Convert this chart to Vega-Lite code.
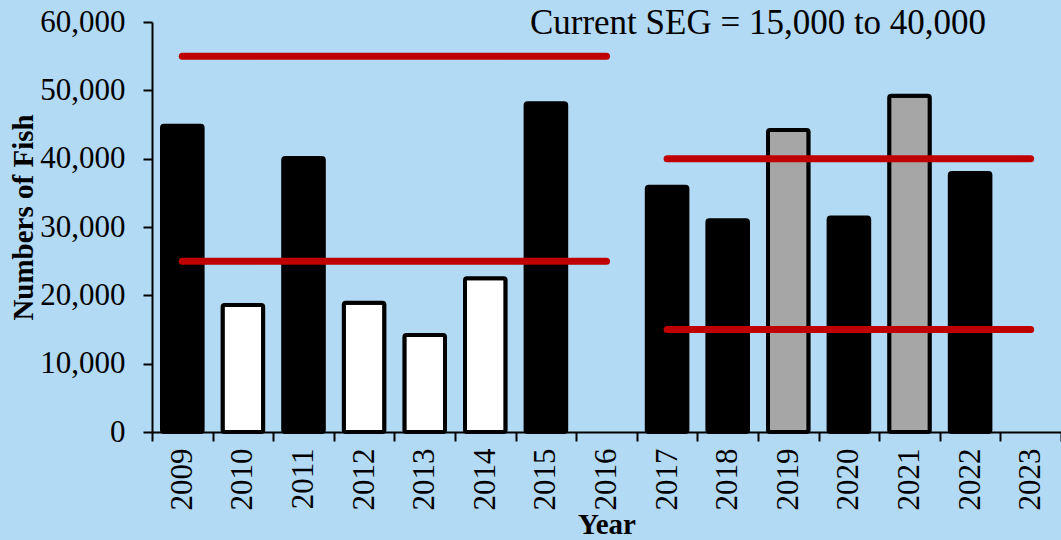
{
  "$schema": "https://vega.github.io/schema/vega-lite/v6.json",
  "width": 909,
  "height": 410,
  "autosize": {"type": "none"},
  "padding": {"left": 152, "top": 22, "right": 0, "bottom": 108},
  "background": "#b2daf4",
  "config": {
    "view": {"stroke": null},
    "font": "Liberation Serif",
    "axis": {
      "labelFont": "Liberation Serif",
      "titleFont": "Liberation Serif",
      "labelColor": "black",
      "titleColor": "black",
      "domainColor": "black",
      "tickColor": "black",
      "domainWidth": 2,
      "tickWidth": 2,
      "tickSize": 9,
      "grid": false
    }
  },
  "datasets": {
    "fish": [
      {"year": "2009", "fish": 44800, "kind": "black"},
      {"year": "2010", "fish": 18600, "kind": "white"},
      {"year": "2011", "fish": 40100, "kind": "black"},
      {"year": "2012", "fish": 18900, "kind": "white"},
      {"year": "2013", "fish": 14200, "kind": "white"},
      {"year": "2014", "fish": 22500, "kind": "white"},
      {"year": "2015", "fish": 48100, "kind": "black"},
      {"year": "2017", "fish": 35900, "kind": "black"},
      {"year": "2018", "fish": 31000, "kind": "black"},
      {"year": "2019", "fish": 44200, "kind": "gray"},
      {"year": "2020", "fish": 31400, "kind": "black"},
      {"year": "2021", "fish": 49200, "kind": "gray"},
      {"year": "2022", "fish": 37900, "kind": "black"}
    ],
    "goals": [
      {"from": "2009", "to": "2016", "goal": 55000},
      {"from": "2009", "to": "2016", "goal": 25000},
      {"from": "2017", "to": "2023", "goal": 40000},
      {"from": "2017", "to": "2023", "goal": 15000}
    ],
    "note": [
      {"year": "2019", "y": 58200, "label": "Current SEG = 15,000 to 40,000"}
    ]
  },
  "layer": [
    {
      "data": {"name": "fish"},
      "mark": {"type": "bar", "width": {"band": 0.67}, "stroke": "black", "strokeWidth": 4, "cornerRadius": 2},
      "encoding": {
        "x": {
          "field": "year",
          "type": "ordinal",
          "scale": {
            "domain": ["2009","2010","2011","2012","2013","2014","2015","2016","2017","2018","2019","2020","2021","2022","2023"],
            "paddingInner": 0,
            "paddingOuter": 0
          },
          "axis": {
            "title": "Year",
            "titleFontSize": 29,
            "titleFontWeight": "bold",
            "titlePadding": 0,
            "labelAngle": -90,
            "labelFontSize": 31,
            "labelPadding": 7,
            "tickBand": "extent"
          }
        },
        "y": {
          "field": "fish",
          "type": "quantitative",
          "scale": {"domain": [0, 60000], "nice": false},
          "axis": {
            "title": "Numbers of Fish",
            "titleFontSize": 29,
            "titleFontWeight": "bold",
            "titlePadding": 1,
            "titleY": 195,
            "values": [0, 10000, 20000, 30000, 40000, 50000, 60000],
            "format": ",.0f",
            "labelFontSize": 31,
            "labelPadding": 18
          }
        },
        "fill": {
          "field": "kind",
          "type": "nominal",
          "scale": {"domain": ["black", "white", "gray"], "range": ["#000000", "#ffffff", "#a6a6a6"]},
          "legend": null
        }
      }
    },
    {
      "data": {"name": "goals"},
      "mark": {"type": "rule", "color": "#c00000", "strokeWidth": 7, "strokeCap": "round"},
      "encoding": {
        "x": {"field": "from", "type": "ordinal", "bandPosition": 0.5},
        "x2": {"field": "to", "bandPosition": 0.5},
        "y": {"field": "goal", "type": "quantitative"}
      }
    },
    {
      "data": {"name": "note"},
      "mark": {"type": "text", "fontSize": 35, "font": "Liberation Serif", "color": "black", "align": "center", "baseline": "alphabetic"},
      "encoding": {
        "x": {"field": "year", "type": "ordinal", "bandPosition": 0},
        "y": {"field": "y", "type": "quantitative"},
        "text": {"field": "label"}
      }
    }
  ]
}
